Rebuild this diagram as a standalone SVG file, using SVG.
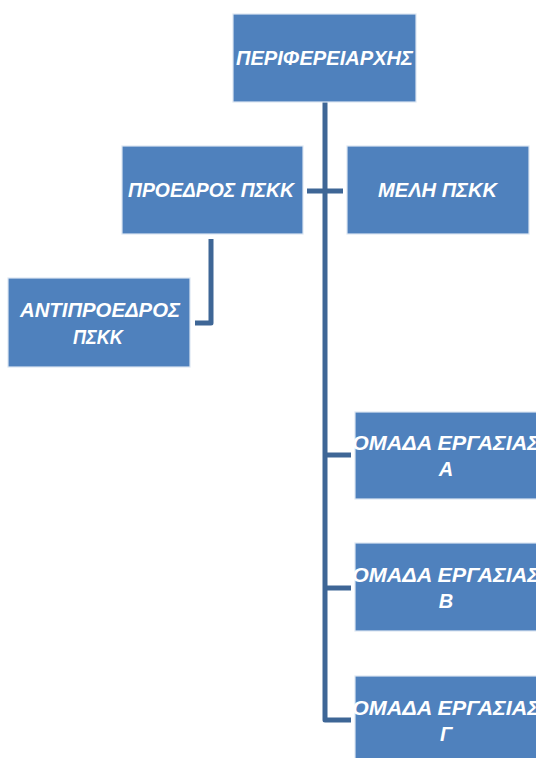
<svg xmlns="http://www.w3.org/2000/svg" width="536" height="758" viewBox="0 0 536 758">
<style>
.box{fill:#4F81BD;stroke:#DCE6F2;stroke-width:1.2}
.lbl{fill:#FFFFFF;font-family:"Liberation Sans","DejaVu Sans",sans-serif;font-weight:bold;font-style:italic;font-size:20px;text-anchor:middle}
.con{fill:none;stroke:#3E6696;stroke-width:5;stroke-linejoin:round;stroke-linecap:butt}
</style>
<rect width="536" height="758" fill="#FFFFFF"/>
<g id="connectors">
<path class="con" d="M325,102 V720 H351"/>
<path class="con" d="M307,191 H343"/>
<path class="con" d="M325,455 H351"/>
<path class="con" d="M325,588 H351"/>
<path class="con" d="M211,239 V323 H195"/>
</g>
<g id="periferiarchis">
<rect class="box" x="233" y="14" width="183" height="88"/>
<text class="lbl" x="324.5" y="65" textLength="177" lengthAdjust="spacingAndGlyphs">ΠΕΡΙΦΕΡΕΙΑΡΧΗΣ</text>
</g>
<g id="proedros">
<rect class="box" x="122" y="146" width="181" height="88"/>
<text class="lbl" x="211" y="197" textLength="166" lengthAdjust="spacingAndGlyphs">ΠΡΟΕΔΡΟΣ ΠΣΚΚ</text>
</g>
<g id="meli">
<rect class="box" x="347" y="146" width="182" height="88"/>
<text class="lbl" x="437.5" y="197" textLength="119" lengthAdjust="spacingAndGlyphs">ΜΕΛΗ ΠΣΚΚ</text>
</g>
<g id="antiproedros">
<rect class="box" x="8" y="278" width="182" height="89"/>
<text class="lbl" x="100" y="317" textLength="160" lengthAdjust="spacingAndGlyphs">ΑΝΤΙΠΡΟΕΔΡΟΣ</text>
<text class="lbl" x="98" y="344" textLength="50" lengthAdjust="spacingAndGlyphs">ΠΣΚΚ</text>
</g>
<g id="omada-a">
<rect class="box" x="355" y="412" width="190" height="87"/>
<text class="lbl" x="446" y="450" textLength="188" lengthAdjust="spacingAndGlyphs">ΟΜΑΔΑ ΕΡΓΑΣΙΑΣ</text>
<text class="lbl" x="446" y="476">Α</text>
</g>
<g id="omada-b">
<rect class="box" x="355" y="543" width="190" height="88"/>
<text class="lbl" x="446" y="582" textLength="188" lengthAdjust="spacingAndGlyphs">ΟΜΑΔΑ ΕΡΓΑΣΙΑΣ</text>
<text class="lbl" x="446" y="608">Β</text>
</g>
<g id="omada-g">
<rect class="box" x="355" y="676" width="190" height="90"/>
<text class="lbl" x="446" y="715" textLength="188" lengthAdjust="spacingAndGlyphs">ΟΜΑΔΑ ΕΡΓΑΣΙΑΣ</text>
<text class="lbl" x="446" y="741">Γ</text>
</g>
</svg>
